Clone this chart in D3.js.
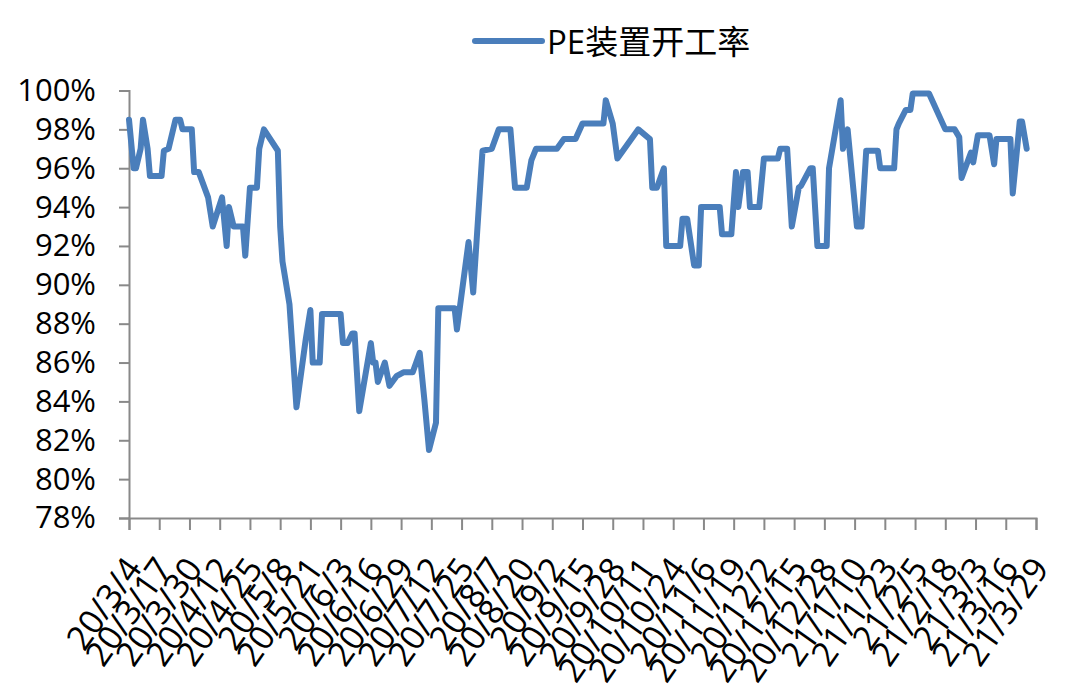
<!DOCTYPE html>
<html>
<head>
<meta charset="utf-8">
<script src="https://cdn.jsdelivr.net/npm/d3@7"></script>
<style>
  html, body { margin: 0; padding: 0; background: #ffffff; }
  svg { display: block; }
</style>
</head>
<body>
<svg id="chart" width="1080" height="700"></svg>
<script>
const seriesName = "PE装置开工率";

const dates = [
  "2020-03-04","2020-03-06","2020-03-07","2020-03-09","2020-03-10","2020-03-12","2020-03-13","2020-03-18","2020-03-19","2020-03-21",
  "2020-03-24","2020-03-26","2020-03-27","2020-03-31","2020-04-01","2020-04-03","2020-04-07","2020-04-09","2020-04-13","2020-04-15",
  "2020-04-16","2020-04-18","2020-04-22","2020-04-23","2020-04-25","2020-04-28","2020-04-29","2020-05-01","2020-05-07","2020-05-08",
  "2020-05-09","2020-05-12","2020-05-15","2020-05-19","2020-05-21","2020-05-22","2020-05-25","2020-05-26","2020-06-03","2020-06-04",
  "2020-06-06","2020-06-08","2020-06-09","2020-06-11","2020-06-16","2020-06-17","2020-06-18","2020-06-19","2020-06-22","2020-06-24",
  "2020-06-27","2020-06-30","2020-07-04","2020-07-07","2020-07-09","2020-07-11","2020-07-14","2020-07-15","2020-07-22","2020-07-23",
  "2020-07-28","2020-07-30","2020-08-03","2020-08-07","2020-08-10","2020-08-15","2020-08-17","2020-08-22","2020-08-24","2020-08-26",
  "2020-09-04","2020-09-07","2020-09-12","2020-09-15","2020-09-24","2020-09-25","2020-09-28","2020-09-30","2020-10-09","2020-10-14",
  "2020-10-15","2020-10-17","2020-10-20","2020-10-21","2020-10-27","2020-10-28","2020-10-30","2020-11-02","2020-11-04","2020-11-05",
  "2020-11-13","2020-11-14","2020-11-18","2020-11-20","2020-11-21","2020-11-23","2020-11-25","2020-11-26","2020-11-30","2020-12-02",
  "2020-12-08","2020-12-09","2020-12-12","2020-12-14","2020-12-17","2020-12-18","2020-12-22","2020-12-23","2020-12-25","2020-12-29",
  "2020-12-30","2021-01-04","2021-01-05","2021-01-07","2021-01-11","2021-01-13","2021-01-15","2021-01-20","2021-01-21","2021-01-27",
  "2021-01-28","2021-01-29","2021-02-01","2021-02-03","2021-02-04","2021-02-11","2021-02-18","2021-02-22","2021-02-24","2021-02-25",
  "2021-03-01","2021-03-02","2021-03-04","2021-03-09","2021-03-11","2021-03-12","2021-03-18","2021-03-19","2021-03-22","2021-03-23",
  "2021-03-25"
];

const values = [
  98.5, 96.0, 96.0, 97.0, 98.5, 97.0, 95.6, 95.6, 96.9, 97.0,
  98.5, 98.5, 98.0, 98.0, 95.8, 95.8, 94.5, 93.0, 94.5, 92.0,
  94.0, 93.0, 93.0, 91.5, 95.0, 95.0, 97.0, 98.0, 96.9, 93.0,
  91.2, 89.0, 83.7, 87.2, 88.7, 86.0, 86.0, 88.5, 88.5, 87.0,
  87.0, 87.5, 87.5, 83.5, 87.0, 86.0, 86.0, 85.0, 86.0, 84.8,
  85.3, 85.5, 85.5, 86.5, 84.1, 81.5, 82.9, 88.8, 88.8, 87.7,
  92.2, 89.6, 96.9, 97.0, 98.0, 98.0, 95.0, 95.0, 96.4, 97.0,
  97.0, 97.5, 97.5, 98.3, 98.3, 99.5, 98.3, 96.5, 98.0, 97.5,
  95.0, 95.0, 96.0, 92.0, 92.0, 93.4, 93.4, 91.0, 91.0, 94.0,
  94.0, 92.6, 92.6, 95.8, 94.0, 95.8, 95.8, 94.0, 94.0, 96.5,
  96.5, 97.0, 97.0, 93.0, 95.0, 95.1, 96.0, 96.0, 92.0, 92.0,
  96.0, 99.5, 97.0, 98.0, 93.0, 93.0, 96.9, 96.9, 96.0, 96.0,
  98.0, 98.3, 99.0, 99.0, 99.85, 99.85, 98.0, 98.0, 97.6, 95.5,
  96.8, 96.3, 97.7, 97.7, 96.2, 97.5, 97.5, 94.7, 98.4, 98.4,
  97.0
];

const xTickLabels = [
  "20/3/4","20/3/17","20/3/30","20/4/12","20/4/25","20/5/8","20/5/21","20/6/3","20/6/16","20/6/29",
  "20/7/12","20/7/25","20/8/7","20/8/20","20/9/2","20/9/15","20/9/28","20/10/11","20/10/24","20/11/6",
  "20/11/19","20/12/2","20/12/15","20/12/28","21/1/10","21/1/23","21/2/5","21/2/18","21/3/3","21/3/16",
  "21/3/29"
];

const yTicks = [78, 80, 82, 84, 86, 88, 90, 92, 94, 96, 98, 100];

const parseDate = d3.timeParse("%Y-%m-%d");
const parseTick = d3.timeParse("%y/%m/%d");
const tickDates = xTickLabels.map(parseTick);

const data = dates.map((d, i) => ({ date: parseDate(d), value: values[i] }));

const svg = d3.select("#chart");
const plotLeft = 129, plotRight = 1036, plotTop = 90.5, plotBottom = 518;

const x = d3.scaleTime()
  .domain([tickDates[0], tickDates[tickDates.length - 1]])
  .range([plotLeft, plotRight]);
const y = d3.scaleLinear().domain([78, 100]).range([plotBottom, plotTop]);

const axisColor = "#898989";
const font = "'Open Sans', 'Noto Sans', sans-serif";

// Y axis
const yAxis = svg.append("g")
  .attr("transform", `translate(${plotLeft},0)`)
  .call(d3.axisLeft(y).tickValues(yTicks).tickSize(10).tickPadding(23)
        .tickFormat(d => d + "%"));
yAxis.select(".domain").attr("stroke", axisColor).attr("stroke-width", 2);
yAxis.selectAll(".tick line").attr("stroke", axisColor).attr("stroke-width", 2);
yAxis.selectAll(".tick text")
  .attr("fill", "#000")
  .style("font-family", font)
  .style("font-size", "31px");

// X axis
const xAxis = svg.append("g")
  .attr("transform", `translate(0,${plotBottom})`)
  .call(d3.axisBottom(x).tickValues(tickDates).tickSize(12)
        .tickFormat((d, i) => xTickLabels[i]));
xAxis.select(".domain").attr("stroke", axisColor).attr("stroke-width", 2);
xAxis.selectAll(".tick line").attr("stroke", axisColor).attr("stroke-width", 2);
xAxis.selectAll(".tick text")
  .attr("fill", "#000")
  .attr("y", 0).attr("dy", null)
  .attr("text-anchor", "end")
  .attr("dominant-baseline", "central")
  .attr("transform", "translate(3,43) rotate(-55)")
  .style("font-family", font)
  .style("font-size", "34px");

// Line
const line = d3.line()
  .x(d => x(d.date))
  .y(d => y(d.value));

svg.append("path")
  .datum(data)
  .attr("fill", "none")
  .attr("stroke", "#4a7ebb")
  .attr("stroke-width", 6)
  .attr("stroke-linejoin", "round")
  .attr("stroke-linecap", "round")
  .attr("d", line);

// Legend
const legend = svg.append("g");
legend.append("line")
  .attr("x1", 475).attr("x2", 542).attr("y1", 41).attr("y2", 41)
  .attr("stroke", "#4a7ebb").attr("stroke-width", 6).attr("stroke-linecap", "round");
legend.append("text")
  .attr("x", 547).attr("y", 41)
  .attr("dominant-baseline", "central")
  .style("font-family", "'Open Sans', 'Noto Sans CJK SC', sans-serif")
  .style("font-size", "33px")
  .attr("fill", "#000")
  .text(seriesName);
</script>
</body>
</html>
